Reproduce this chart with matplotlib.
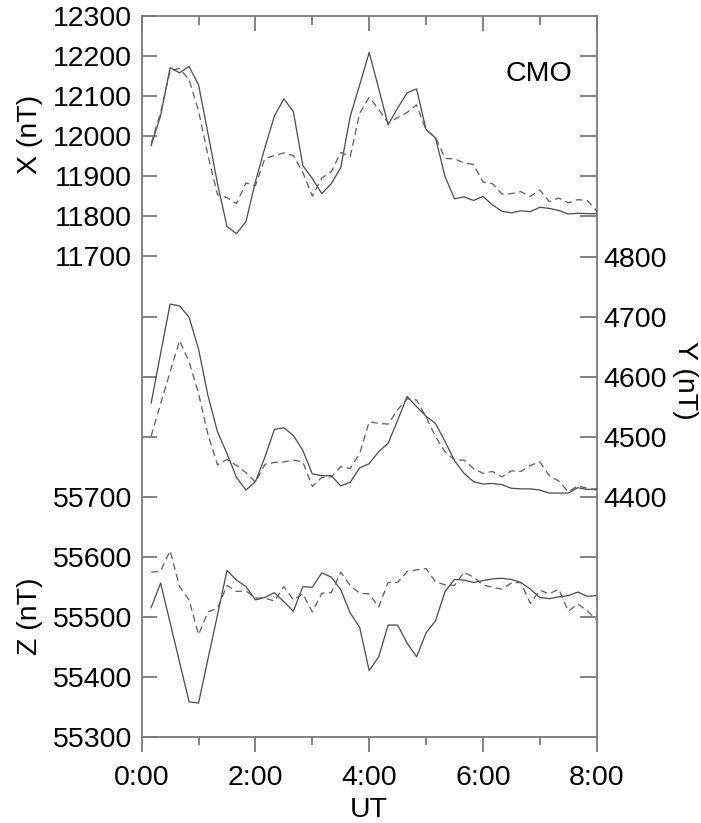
import numpy as np
import matplotlib
matplotlib.use("Agg")
import matplotlib.pyplot as plt

plt.rcParams['font.family'] = ['Liberation Sans', 'DejaVu Sans']

# sample times, minutes after 0:00 UT (10 min cadence)
minutes = np.arange(10, 490, 10)

# X component (nT): observed (solid) and model (dashed)
x_obs = [11975, 12050, 12170, 12157, 12173, 12127, 12005, 11880, 11773, 11755,
         11785, 11885, 11970, 12049, 12092, 12060, 11925, 11893, 11855, 11880,
         11920, 12048, 12127, 12208, 12118, 12027, 12069, 12107, 12117, 12015,
         11994, 11898, 11842, 11847, 11838, 11848, 11827, 11811, 11807, 11812,
         11810, 11821, 11818, 11813, 11804, 11806, 11805, 11805]
x_mod = [11980, 12058, 12162, 12168, 12140, 12062, 11950, 11852, 11845, 11830,
         11882, 11875, 11943, 11950, 11957, 11950, 11908, 11849, 11894, 11910,
         11958, 11948, 12056, 12096, 12066, 12032, 12045, 12058, 12077, 12014,
         11996, 11943, 11942, 11932, 11928, 11884, 11880, 11854, 11855, 11860,
         11848, 11864, 11835, 11844, 11832, 11840, 11838, 11812]

# Y component (nT)
y_obs = [4556, 4639, 4721, 4718, 4699, 4646, 4568, 4508, 4472, 4432,
         4411, 4425, 4466, 4512, 4515, 4502, 4477, 4438, 4435, 4435,
         4418, 4424, 4448, 4455, 4475, 4489, 4527, 4567, 4550, 4534,
         4522, 4492, 4460, 4439, 4425, 4421, 4422, 4420, 4414, 4413,
         4413, 4411, 4406, 4406, 4406, 4415, 4412, 4413]
y_mod = [4501, 4555, 4608, 4660, 4625, 4572, 4503, 4453, 4462, 4452,
         4440, 4424, 4454, 4457, 4458, 4461, 4458, 4417, 4432, 4433,
         4450, 4447, 4472, 4525, 4522, 4521, 4545, 4563, 4561, 4533,
         4500, 4475, 4461, 4461, 4447, 4439, 4442, 4433, 4443, 4442,
         4452, 4458, 4435, 4426, 4408, 4418, 4414, 4411]

# Z component (nT)
z_obs = [55515, 55556, 55490, 55424, 55358, 55356, 55430, 55503, 55577, 55561,
         55550, 55528, 55532, 55540, 55525, 55509, 55550, 55549, 55573, 55566,
         55545, 55506, 55482, 55410, 55433, 55486, 55486, 55456, 55433, 55473,
         55493, 55542, 55562, 55561, 55557, 55560, 55563, 55564, 55562, 55557,
         55546, 55532, 55530, 55533, 55535, 55541, 55534, 55535]
z_mod = [55574, 55576, 55610, 55550, 55528, 55470, 55508, 55514, 55552, 55542,
         55543, 55531, 55531, 55526, 55550, 55528, 55538, 55508, 55539, 55540,
         55574, 55552, 55539, 55538, 55516, 55557, 55557, 55575, 55578, 55580,
         55558, 55553, 55552, 55574, 55566, 55553, 55549, 55546, 55556, 55557,
         55522, 55544, 55538, 55546, 55509, 55521, 55510, 55494]

x_ticks = [11700, 11800, 11900, 12000, 12100, 12200, 12300]
y_ticks = [4400, 4500, 4600, 4700, 4800]
z_ticks = [55300, 55400, 55500, 55600, 55700]
time_ticks = [0, 2, 4, 6, 8]
time_labels = ['0:00', '2:00', '4:00', '6:00', '8:00']

FS = 20.5
SPINE = '#7a7a7a'
SOLID = '#4a4a4a'
DASH = '#5c5c5c'

hours = minutes / 60.0
fig = plt.figure(figsize=(7.01, 8.23), dpi=100)
pos = [0.2021, 0.1049, 0.6491, 0.8761]

ax_z = fig.add_axes(pos)
ax_y = fig.add_axes(pos, sharex=ax_z)
ax_x = fig.add_axes(pos, sharex=ax_z)
for a in (ax_y, ax_x):
    a.patch.set_visible(False)
    for s in a.spines.values():
        s.set_visible(False)
for s in ax_z.spines.values():
    s.set_color(SPINE)
    s.set_linewidth(1.3)

ax_z.set_xlim(0, 8)

# scales: X 40 px / 100 nT, Y and Z 60 px / 100 nT in a 721 px high frame
ax_x.set_ylim(12300 - 1802.5, 12300)
ax_y.set_ylim(4000, 4000 + 1201.7)
ax_z.set_ylim(55300, 55300 + 1201.7)

kw_s = dict(color=SOLID, lw=0.9)
kw_d = dict(color=DASH, lw=0.9, dashes=(5.5, 3.5))
ax_x.plot(hours, x_obs, **kw_s)
ax_x.plot(hours, x_mod, **kw_d)
ax_y.plot(hours, y_obs, **kw_s)
ax_y.plot(hours, y_mod, **kw_d)
ax_z.plot(hours, z_obs, **kw_s)
ax_z.plot(hours, z_mod, **kw_d)

# bottom time axis (outward ticks) on the Z axes
ax_z.set_xticks(time_ticks)
ax_z.set_xticklabels(time_labels)
ax_z.set_xticks([1, 3, 5, 7], minor=True)
ax_z.tick_params(axis='x', which='both', direction='out', bottom=True, top=False,
                 labelsize=FS, color=SPINE, width=1.3, pad=9.5)
ax_z.tick_params(axis='x', which='major', length=11)
ax_z.tick_params(axis='x', which='minor', length=6)
ax_z.set_xlabel('UT', fontsize=FS, labelpad=4.5)

# left Z ticks, labels only for the lower part
z_all = z_ticks + [55800, 55900, 56000]
ax_z.set_yticks(z_all)
ax_z.set_yticklabels([str(v) for v in z_ticks] + ['', '', ''])
ax_z.tick_params(axis='y', direction='in', left=True, right=False, length=11,
                 width=1.3, color=SPINE, labelsize=FS, pad=6.7)

# top time ticks (inward) and X axis on the left
ax_x.tick_params(axis='x', which='both', direction='in', bottom=False, top=True,
                 labelbottom=False, color=SPINE, width=1.3)
ax_x.tick_params(axis='x', which='major', length=11)
ax_x.tick_params(axis='x', which='minor', length=6.5)
ax_x.set_yticks(x_ticks)
ax_x.set_yticklabels([str(v) for v in x_ticks])
ax_x.tick_params(axis='y', direction='in', left=True, right=False, length=11,
                 width=1.3, color=SPINE, labelsize=FS, pad=6.7)

# right Y axis, with extra unlabelled ticks mirrored from X
ax_y.tick_params(axis='x', which='both', bottom=False, top=False, labelbottom=False)
y_all = [4100, 4200, 4300] + y_ticks
ax_y.set_yticks(y_all)
ax_y.set_yticklabels(['', '', ''] + [str(v) for v in y_ticks])
ax_y.yaxis.tick_right()
ax_y.tick_params(axis='y', direction='in', left=False, right=True, length=12,
                 width=1.3, color=SPINE, labelsize=FS, pad=4.5)
x_right = fig.add_axes(pos, sharex=ax_z)
x_right.patch.set_visible(False)
for s in x_right.spines.values():
    s.set_visible(False)
x_right.set_ylim(ax_x.get_ylim())
x_right.set_yticks([11800, 11900, 12000, 12100, 12200])
x_right.yaxis.tick_right()
x_right.tick_params(axis='y', direction='in', length=12, width=1.3, color=SPINE,
                    labelright=False)
x_right.tick_params(axis='x', which='both', bottom=False, top=False, labelbottom=False)

fig.text(30 / 701, 1 - 134 / 823, 'X (nT)', rotation=90, ha='center', va='center', fontsize=FS)
fig.text(30 / 701, 1 - 616 / 823, 'Z (nT)', rotation=90, ha='center', va='center', fontsize=FS)
fig.text(685 / 701, 1 - 380 / 823, 'Y (nT)', rotation=270, ha='center', va='center', fontsize=FS)
ax_x.text(0.873, 0.919, 'CMO', transform=ax_x.transAxes, ha='center', va='center', fontsize=FS)

fig.savefig('out.png', dpi=100)
